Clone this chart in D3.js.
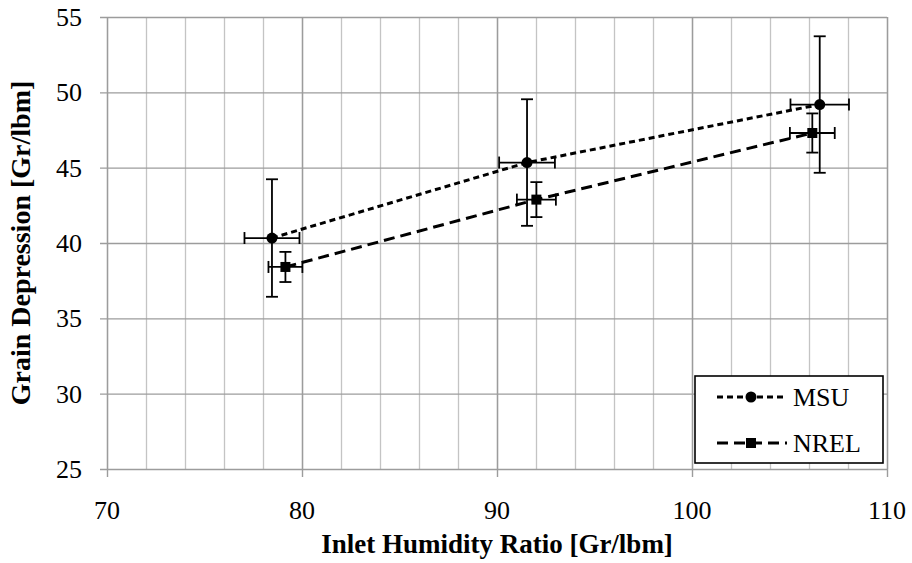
<!DOCTYPE html>
<html>
<head>
<meta charset="utf-8">
<script src="https://cdn.jsdelivr.net/npm/d3@7"></script>
<style>
  body { margin: 0; background: #fff; }
  text { font-family: "Liberation Serif", "Times New Roman", serif; }
</style>
</head>
<body>
<div id="chart"></div>
<script>
// Series values
const seriesNames = ["MSU", "NREL"];
const msuX = [78.46, 91.54, 106.55];
const msuY = [40.33, 45.34, 49.19];
const msuXErr = [1.41, 1.43, 1.5];
const msuYErr = [3.9, 4.2, 4.53];
const nrelX = [79.15, 92.02, 106.17];
const nrelY = [38.41, 42.88, 47.3];
const nrelXErr = [0.87, 1.0, 1.15];
const nrelYErr = [1.0, 1.16, 1.3];

const xTicks = [70, 80, 90, 100, 110];
const yTicks = [25, 30, 35, 40, 45, 50, 55];
const xTitle = "Inlet Humidity Ratio [Gr/lbm]";
const yTitle = "Grain Depression [Gr/lbm]";

const W = 912, H = 563;
const margin = { top: 17, right: 25, bottom: 94, left: 107 },
  width = W - margin.left - margin.right,
  height = H - margin.top - margin.bottom;

const svg = d3.select("#chart").append("svg")
  .attr("width", W).attr("height", H)
  .append("g")
  .attr("transform", `translate(${margin.left},${margin.top})`);

const x = d3.scaleLinear().domain([70, 110]).range([0, width]);
const y = d3.scaleLinear().domain([25, 55]).range([height, 0]);

// minor vertical gridlines every 2
svg.append("g")
  .attr("transform", `translate(0,${height})`)
  .call(d3.axisBottom(x).tickValues(d3.range(70, 111, 2)).tickSize(-height).tickFormat(""))
  .call(g => g.select(".domain").remove())
  .call(g => g.selectAll("line").attr("stroke", "#c4c4c4").attr("stroke-width", 1.3));

// major vertical gridlines + ticks
svg.append("g")
  .attr("transform", `translate(0,${height})`)
  .call(d3.axisBottom(x).tickValues(xTicks).tickSize(-height).tickFormat(""))
  .call(g => g.select(".domain").remove())
  .call(g => g.selectAll("line").attr("stroke", "#9c9c9c").attr("stroke-width", 1.4).attr("y1", 8));

// horizontal gridlines + ticks
svg.append("g")
  .call(d3.axisLeft(y).tickValues(yTicks).tickSize(-width).tickFormat(""))
  .call(g => g.select(".domain").remove())
  .call(g => g.selectAll("line").attr("stroke", "#9c9c9c").attr("stroke-width", 1.4).attr("x1", -7));

// tick labels
svg.append("g")
  .selectAll("text")
  .data(xTicks)
  .join("text")
  .attr("x", d => x(d))
  .attr("y", height + 50)
  .attr("text-anchor", "middle")
  .attr("font-size", 26)
  .text(d => d);

svg.append("g")
  .selectAll("text")
  .data(yTicks)
  .join("text")
  .attr("x", -25)
  .attr("y", d => y(d))
  .attr("dy", "0.35em")
  .attr("text-anchor", "end")
  .attr("font-size", 26)
  .text(d => d);

// axis titles
svg.append("text")
  .attr("x", width / 2)
  .attr("y", height + 84)
  .attr("text-anchor", "middle")
  .attr("font-size", 27)
  .attr("font-weight", "bold")
  .text(xTitle);

svg.append("text")
  .attr("transform", `translate(${20 - margin.left},${height / 2}) rotate(-90)`)
  .attr("dy", "0.35em")
  .attr("text-anchor", "middle")
  .attr("font-size", 28)
  .attr("font-weight", "bold")
  .text(yTitle);

// series
const series = [
  { name: seriesNames[0], xs: msuX, ys: msuY, ex: msuXErr, ey: msuYErr, dash: "6,4", shape: "circle" },
  { name: seriesNames[1], xs: nrelX, ys: nrelY, ex: nrelXErr, ey: nrelYErr, dash: "11,6", shape: "square" },
];

const line = d3.line().x(d => x(d[0])).y(d => y(d[1]));

series.forEach(s => {
  const pts = s.xs.map((v, i) => [v, s.ys[i], s.ex[i], s.ey[i]]);

  svg.append("path")
    .datum(pts)
    .attr("fill", "none")
    .attr("stroke", "#000")
    .attr("stroke-width", 3)
    .attr("stroke-dasharray", s.dash)
    .attr("d", line);

  const eb = svg.append("g").attr("stroke", "#000").attr("stroke-width", 1.8);
  pts.forEach(p => {
    const cx = x(p[0]), cy = y(p[1]);
    const y0 = y(p[1] - p[3]), y1 = y(p[1] + p[3]);
    const x0 = x(p[0] - p[2]), x1 = x(p[0] + p[2]);
    eb.append("line").attr("x1", cx).attr("x2", cx).attr("y1", y0).attr("y2", y1);
    eb.append("line").attr("x1", cx - 6).attr("x2", cx + 6).attr("y1", y0).attr("y2", y0);
    eb.append("line").attr("x1", cx - 6).attr("x2", cx + 6).attr("y1", y1).attr("y2", y1);
    eb.append("line").attr("x1", x0).attr("x2", x1).attr("y1", cy).attr("y2", cy);
    eb.append("line").attr("x1", x0).attr("x2", x0).attr("y1", cy - 6).attr("y2", cy + 6);
    eb.append("line").attr("x1", x1).attr("x2", x1).attr("y1", cy - 6).attr("y2", cy + 6);
  });

  const sym = d3.symbol().type(s.shape === "circle" ? d3.symbolCircle : d3.symbolSquare).size(s.shape === "circle" ? 95 : 100);
  svg.append("g")
    .selectAll("path")
    .data(pts)
    .join("path")
    .attr("transform", d => `translate(${x(d[0])},${y(d[1])})`)
    .attr("d", sym)
    .attr("fill", "#000");
});

// legend
const lg = svg.append("g").attr("transform", `translate(${695 - margin.left},${376 - margin.top})`);
lg.append("rect")
  .attr("width", 188).attr("height", 87)
  .attr("fill", "#fff").attr("stroke", "#000").attr("stroke-width", 1.6);

series.forEach((s, i) => {
  const ly = 21 + i * 46;
  lg.append("line")
    .attr("x1", 22).attr("x2", 92).attr("y1", ly).attr("y2", ly)
    .attr("stroke", "#000").attr("stroke-width", 3)
    .attr("stroke-dasharray", s.dash);
  lg.append("path")
    .attr("transform", `translate(56,${ly})`)
    .attr("d", d3.symbol().type(s.shape === "circle" ? d3.symbolCircle : d3.symbolSquare).size(s.shape === "circle" ? 95 : 100))
    .attr("fill", "#000");
  lg.append("text")
    .attr("x", 98).attr("y", ly)
    .attr("dy", "0.35em")
    .attr("font-size", 26)
    .text(s.name);
});
</script>
</body>
</html>
